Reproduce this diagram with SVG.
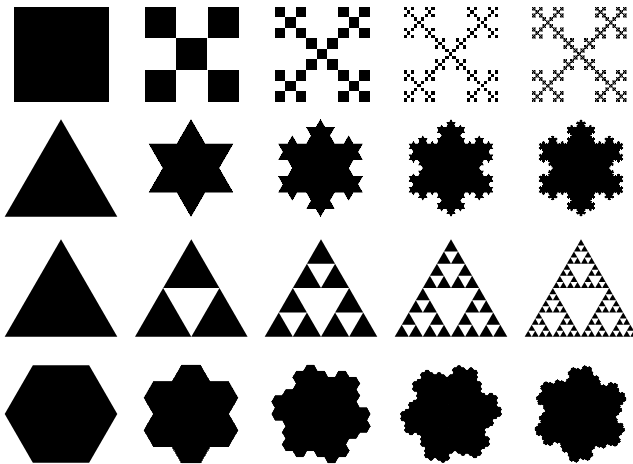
<svg xmlns="http://www.w3.org/2000/svg" width="633" height="464" viewBox="0 0 633 464">
<style>
.f{fill:#000}
.c{shape-rendering:crispEdges;stroke:#000}
.a{stroke:#000;stroke-linejoin:round}
</style>
<defs>
<rect id="v0" class="f" x="0" y="0" width="1" height="1"/>
<g id="v1"><use href="#v0" transform="scale(0.333333)"/><use href="#v0" transform="translate(0.666667,0) scale(0.333333)"/><use href="#v0" transform="translate(0.333333,0.333333) scale(0.333333)"/><use href="#v0" transform="translate(0,0.666667) scale(0.333333)"/><use href="#v0" transform="translate(0.666667,0.666667) scale(0.333333)"/></g>
<g id="v2"><use href="#v1" transform="scale(0.333333)"/><use href="#v1" transform="translate(0.666667,0) scale(0.333333)"/><use href="#v1" transform="translate(0.333333,0.333333) scale(0.333333)"/><use href="#v1" transform="translate(0,0.666667) scale(0.333333)"/><use href="#v1" transform="translate(0.666667,0.666667) scale(0.333333)"/></g>
<g id="v3"><use href="#v2" transform="scale(0.333333)"/><use href="#v2" transform="translate(0.666667,0) scale(0.333333)"/><use href="#v2" transform="translate(0.333333,0.333333) scale(0.333333)"/><use href="#v2" transform="translate(0,0.666667) scale(0.333333)"/><use href="#v2" transform="translate(0.666667,0.666667) scale(0.333333)"/></g>
<g id="v4"><use href="#v3" transform="scale(0.333333)"/><use href="#v3" transform="translate(0.666667,0) scale(0.333333)"/><use href="#v3" transform="translate(0.333333,0.333333) scale(0.333333)"/><use href="#v3" transform="translate(0,0.666667) scale(0.333333)"/><use href="#v3" transform="translate(0.666667,0.666667) scale(0.333333)"/></g>

<polygon id="kb" class="f" points="0.333333,0 0.5,-0.288675 0.666667,0"/>
<g id="k2"><use href="#kb"/><use href="#kb" transform="scale(0.333333)"/><use href="#kb" transform="translate(0.333333,0) rotate(-60) scale(0.333333)"/><use href="#kb" transform="translate(0.5,-0.288675) rotate(60) scale(0.333333)"/><use href="#kb" transform="translate(0.666667,0) scale(0.333333)"/></g>
<g id="k3"><use href="#kb"/><use href="#k2" transform="scale(0.333333)"/><use href="#k2" transform="translate(0.333333,0) rotate(-60) scale(0.333333)"/><use href="#k2" transform="translate(0.5,-0.288675) rotate(60) scale(0.333333)"/><use href="#k2" transform="translate(0.666667,0) scale(0.333333)"/></g>
<g id="k4"><use href="#kb"/><use href="#k3" transform="scale(0.333333)"/><use href="#k3" transform="translate(0.333333,0) rotate(-60) scale(0.333333)"/><use href="#k3" transform="translate(0.5,-0.288675) rotate(60) scale(0.333333)"/><use href="#k3" transform="translate(0.666667,0) scale(0.333333)"/></g>

<polygon id="tri" class="f" points="0.5,0 1,0.866025 0,0.866025"/>
<g id="sf1"><use href="#tri"/><use href="#kb" transform="translate(0.5,0) rotate(60)"/><use href="#kb" transform="translate(1,0.866025) rotate(180)"/><use href="#kb" transform="translate(0,0.866025) rotate(-60)"/></g>
<g id="sf2"><use href="#tri"/><use href="#k2" transform="translate(0.5,0) rotate(60)"/><use href="#k2" transform="translate(1,0.866025) rotate(180)"/><use href="#k2" transform="translate(0,0.866025) rotate(-60)"/></g>
<g id="sf3"><use href="#tri"/><use href="#k3" transform="translate(0.5,0) rotate(60)"/><use href="#k3" transform="translate(1,0.866025) rotate(180)"/><use href="#k3" transform="translate(0,0.866025) rotate(-60)"/></g>
<g id="sf4"><use href="#tri"/><use href="#k4" transform="translate(0.5,0) rotate(60)"/><use href="#k4" transform="translate(1,0.866025) rotate(180)"/><use href="#k4" transform="translate(0,0.866025) rotate(-60)"/></g>

<g id="s1"><use href="#tri" transform="translate(0.25,0) scale(0.5)"/><use href="#tri" transform="translate(0,0.433013) scale(0.5)"/><use href="#tri" transform="translate(0.5,0.433013) scale(0.5)"/></g>
<g id="s2"><use href="#s1" transform="translate(0.25,0) scale(0.5)"/><use href="#s1" transform="translate(0,0.433013) scale(0.5)"/><use href="#s1" transform="translate(0.5,0.433013) scale(0.5)"/></g>
<g id="s3"><use href="#s2" transform="translate(0.25,0) scale(0.5)"/><use href="#s2" transform="translate(0,0.433013) scale(0.5)"/><use href="#s2" transform="translate(0.5,0.433013) scale(0.5)"/></g>
<g id="s4"><use href="#s3" transform="translate(0.25,0) scale(0.5)"/><use href="#s3" transform="translate(0,0.433013) scale(0.5)"/><use href="#s3" transform="translate(0.5,0.433013) scale(0.5)"/></g>

<polygon id="hx" class="f" points="0.57735,0 0.288675,0.5 -0.288675,0.5 -0.57735,0 -0.288675,-0.5 0.288675,-0.5"/>
<g id="g1"><use href="#hx"/><use href="#hx" transform="translate(0.866025,-0.5)"/><use href="#hx" transform="translate(0,-1)"/><use href="#hx" transform="translate(-0.866025,-0.5)"/><use href="#hx" transform="translate(-0.866025,0.5)"/><use href="#hx" transform="translate(0,1)"/><use href="#hx" transform="translate(0.866025,0.5)"/></g>
<g id="g2"><use href="#g1"/><use href="#g1" transform="translate(1.732051,-2)"/><use href="#g1" transform="translate(-0.866025,-2.5)"/><use href="#g1" transform="translate(-2.598076,-0.5)"/><use href="#g1" transform="translate(-1.732051,2)"/><use href="#g1" transform="translate(0.866025,2.5)"/><use href="#g1" transform="translate(2.598076,0.5)"/></g>
<g id="g3"><use href="#g2"/><use href="#g2" transform="translate(2.598076,-6.5)"/><use href="#g2" transform="translate(-4.330127,-5.5)"/><use href="#g2" transform="translate(-6.928203,1)"/><use href="#g2" transform="translate(-2.598076,6.5)"/><use href="#g2" transform="translate(4.330127,5.5)"/><use href="#g2" transform="translate(6.928203,-1)"/></g>
<g id="g4"><use href="#g3"/><use href="#g3" transform="translate(0.866025,-18.5)"/><use href="#g3" transform="translate(-15.588457,-10)"/><use href="#g3" transform="translate(-16.454482,8.5)"/><use href="#g3" transform="translate(-0.866025,18.5)"/><use href="#g3" transform="translate(15.588457,10)"/><use href="#g3" transform="translate(16.454482,-8.5)"/></g>
</defs>

<rect x="0" y="0" width="633" height="464" fill="#fff"/>

<g id="vicsek" style="shape-rendering:crispEdges">
<use href="#v0" transform="translate(14,7) scale(94.5)"/>
<use href="#v1" transform="translate(144.5,7) scale(94.5)"/>
<use href="#v2" transform="translate(275,7) scale(94.5)"/>
<use href="#v3" transform="translate(403.5,7) scale(94.5)"/>
<use href="#v4" transform="translate(532,7) scale(94.5)" stroke="#000" stroke-width="0.4"/>
</g>

<g id="koch">
<use href="#tri" transform="translate(4.7,119.3) scale(112.6)"/>
<use class="c" stroke-width="0" href="#sf1" transform="translate(148.775,119.3) scale(84.45)"/>
<use href="#sf1" transform="translate(148.775,119.3) scale(84.45)"/>
<use class="c" stroke-width="0" href="#sf2" transform="translate(278.275,119.3) scale(84.45)"/>
<use href="#sf2" transform="translate(278.275,119.3) scale(84.45)"/>
<use class="c" stroke-width="0" href="#sf3" transform="translate(408.775,119.3) scale(84.45)"/>
<use href="#sf3" transform="translate(408.775,119.3) scale(84.45)"/>
<use class="c" stroke-width="0" href="#sf4" transform="translate(538.775,119.3) scale(84.45)"/>
<use href="#sf4" transform="translate(538.775,119.3) scale(84.45)"/>
</g>

<g id="sierpinski">
<use href="#tri" transform="translate(4.7,239.3) scale(112.6)"/>
<use href="#s1" transform="translate(135,239.3) scale(112.6)"/>
<use href="#s2" transform="translate(264.7,239.3) scale(112.6)"/>
<use href="#s3" transform="translate(394.7,239.3) scale(112.6)"/>
<use href="#s4" transform="translate(524.7,239.3) scale(112.6)"/>
</g>

<g id="gosper">
<use href="#hx" transform="translate(61,414) scale(97.5)"/>
<use class="c" stroke-width="0.0185" href="#g1" transform="translate(191,414) scale(32.5)"/>
<use class="a" stroke-width="0.012" href="#g1" transform="translate(191,414) scale(32.5)"/>
<use class="c" stroke-width="0.05" href="#g2" transform="translate(321,414) scale(12.19)"/>
<use class="a" stroke-width="0.033" href="#g2" transform="translate(321,414) scale(12.19)"/>
<use class="c" stroke-width="0.17" href="#g3" transform="translate(451,414) scale(4.6)"/>
<use class="a" stroke-width="0.09" href="#g3" transform="translate(451,414) scale(4.6)"/>
<use class="c" stroke-width="0.45" href="#g4" transform="translate(580.5,414) scale(1.66)"/>
<use class="a" stroke-width="0.24" href="#g4" transform="translate(580.5,414) scale(1.66)"/>
</g>
</svg>
